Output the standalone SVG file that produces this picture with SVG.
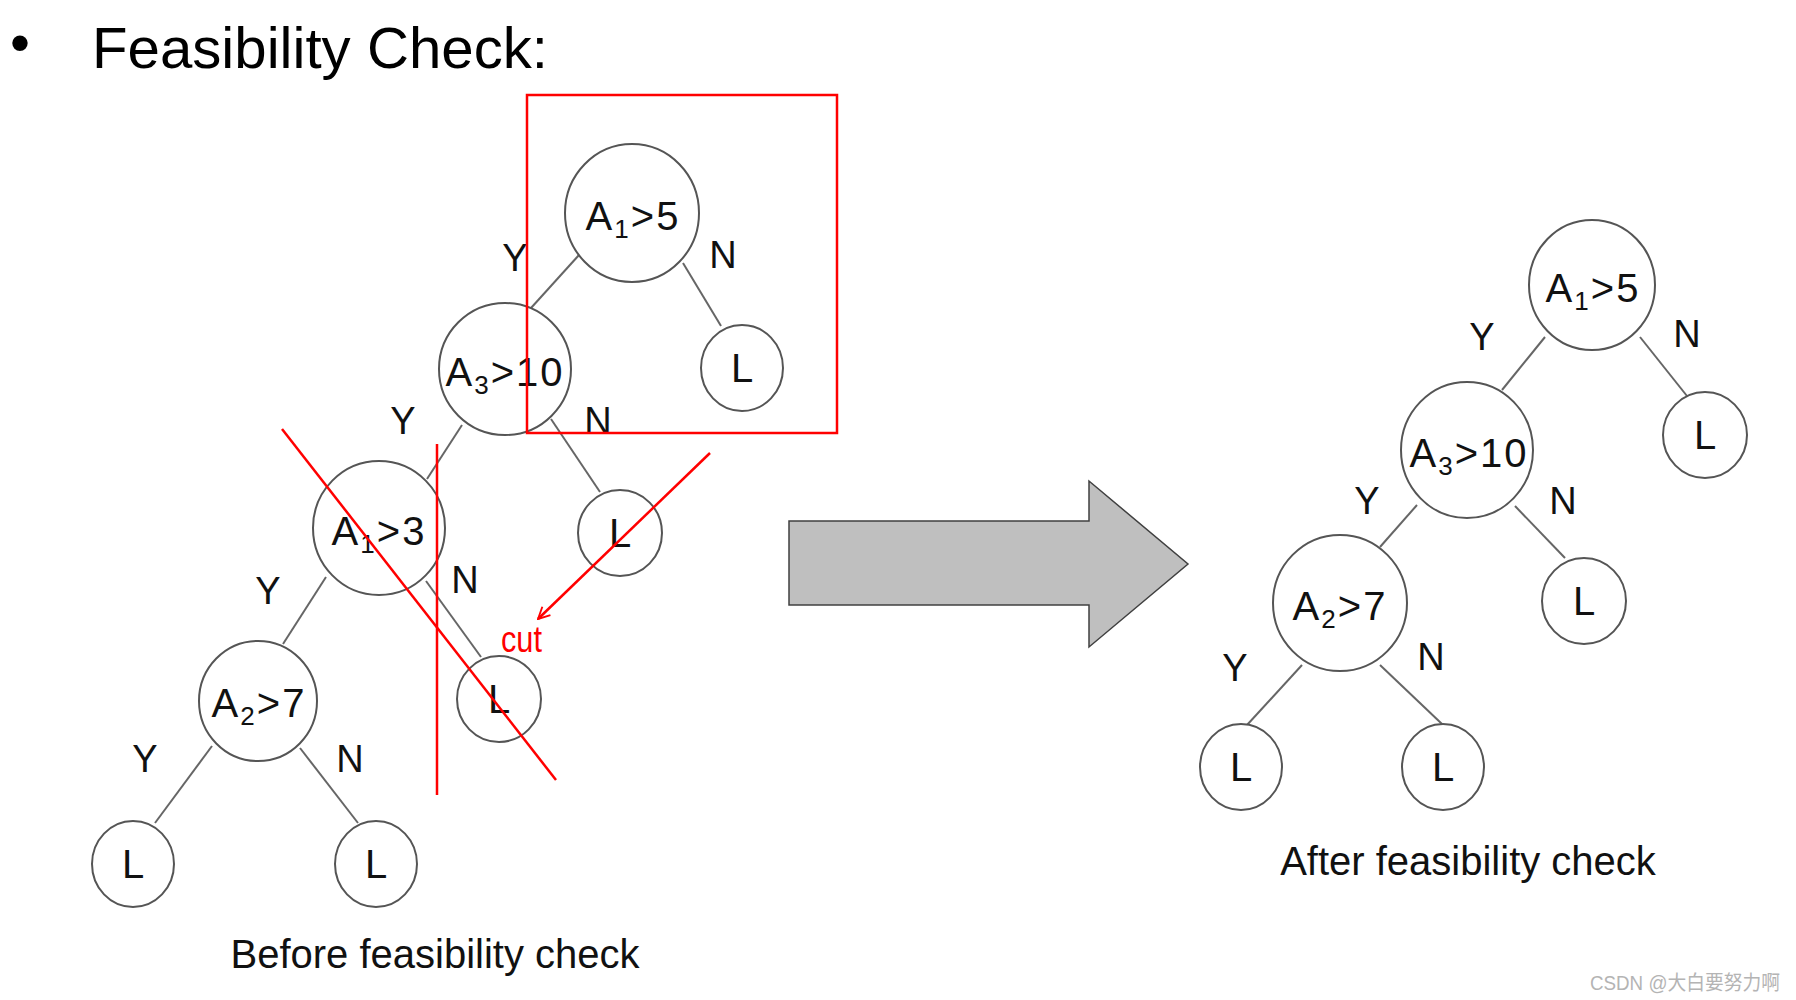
<svg xmlns="http://www.w3.org/2000/svg" width="1796" height="1000" viewBox="0 0 1796 1000">
<style>
.bg{fill:#fff}
.title{font-family:"Liberation Sans",Arial,sans-serif;font-size:57px;fill:#000}
.node{fill:#fff;stroke:#555;stroke-width:2}
.nt{font-family:"Liberation Sans",Arial,sans-serif;font-size:40px;fill:#111;text-anchor:middle;letter-spacing:2px}
.sub{font-size:26px}
.edge{stroke:#666;stroke-width:2;fill:none}
.lbl{font-family:"Liberation Sans",Arial,sans-serif;font-size:38px;fill:#111;text-anchor:middle}
.cap{font-family:"Liberation Sans",Arial,sans-serif;font-size:40px;fill:#111;text-anchor:middle}
.red{stroke:#ff0000;stroke-width:2.5;fill:none}
.cut{font-family:"Liberation Sans",Arial,sans-serif;font-size:36px;fill:#ff0000}
.wm{font-family:"Liberation Sans","Noto Sans CJK SC",sans-serif;font-size:20px;fill:#b4b4b4}
</style>
<defs>
<marker id="openArrow" viewBox="0 0 12 12" refX="11" refY="6" markerWidth="14" markerHeight="14" markerUnits="userSpaceOnUse" orient="auto">
<path d="M1,1 L11,6 L1,11" fill="none" stroke="#ff0000" stroke-width="1.6"/>
</marker>
</defs>
<rect class="bg" x="0" y="0" width="1796" height="1000"/>

<g id="title">
<text class="title" x="10" y="62">•</text>
<text class="title" x="92" y="68" textLength="456" lengthAdjust="spacingAndGlyphs">Feasibility Check:</text>
</g>

<g id="connectors">
<!-- left tree -->
<line class="edge" x1="579" y1="255" x2="531" y2="308"/>
<line class="edge" x1="683" y1="263" x2="721" y2="326"/>
<line class="edge" x1="462" y1="425" x2="427" y2="479"/>
<line class="edge" x1="551" y1="419" x2="600" y2="492"/>
<line class="edge" x1="326" y1="577" x2="283" y2="644"/>
<line class="edge" x1="426" y1="581" x2="481" y2="657"/>
<line class="edge" x1="212" y1="746" x2="155" y2="823"/>
<line class="edge" x1="300" y1="748" x2="358" y2="823"/>
<text class="lbl" x="515" y="271">Y</text>
<text class="lbl" x="723" y="268">N</text>
<text class="lbl" x="403" y="434">Y</text>
<text class="lbl" x="598" y="434">N</text>
<text class="lbl" x="268" y="604">Y</text>
<text class="lbl" x="465" y="593">N</text>
<text class="lbl" x="145" y="772">Y</text>
<text class="lbl" x="350" y="772">N</text>
<!-- right tree -->
<line class="edge" x1="1545" y1="337" x2="1502" y2="390"/>
<line class="edge" x1="1640" y1="337" x2="1687" y2="396"/>
<line class="edge" x1="1417" y1="505" x2="1380" y2="547"/>
<line class="edge" x1="1515" y1="506" x2="1565" y2="558"/>
<line class="edge" x1="1302" y1="665" x2="1247" y2="725"/>
<line class="edge" x1="1380" y1="665" x2="1442" y2="724"/>
<text class="lbl" x="1482" y="350">Y</text>
<text class="lbl" x="1687" y="347">N</text>
<text class="lbl" x="1367" y="514">Y</text>
<text class="lbl" x="1563" y="514">N</text>
<text class="lbl" x="1235" y="681">Y</text>
<text class="lbl" x="1431" y="670">N</text>
</g>

<!-- left tree nodes -->
<g id="L_A1gt5"><ellipse class="node" cx="632" cy="213" rx="67" ry="69"/><text class="nt" x="633" y="230">A<tspan class="sub" dy="8">1</tspan><tspan dy="-8">&gt;5</tspan></text></g>
<g id="L_A3gt10"><ellipse class="node" cx="505" cy="369" rx="66" ry="66"/><text class="nt" x="505" y="386">A<tspan class="sub" dy="8">3</tspan><tspan dy="-8">&gt;10</tspan></text></g>
<g id="L_leaf1"><ellipse class="node" cx="742" cy="368" rx="41" ry="43"/><text class="nt" x="743" y="382">L</text></g>
<g id="L_A1gt3"><ellipse class="node" cx="379" cy="528" rx="66" ry="67"/><text class="nt" x="379" y="545">A<tspan class="sub" dy="8">1</tspan><tspan dy="-8">&gt;3</tspan></text></g>
<g id="L_leaf2"><ellipse class="node" cx="620" cy="533" rx="42" ry="43"/><text class="nt" x="621" y="547">L</text></g>
<g id="L_A2gt7"><ellipse class="node" cx="258" cy="701" rx="59" ry="60"/><text class="nt" x="259" y="717">A<tspan class="sub" dy="8">2</tspan><tspan dy="-8">&gt;7</tspan></text></g>
<g id="L_leaf3"><ellipse class="node" cx="499" cy="699" rx="42" ry="43"/><text class="nt" x="500" y="713">L</text></g>
<g id="L_leaf4"><ellipse class="node" cx="133" cy="864" rx="41" ry="43"/><text class="nt" x="134" y="878">L</text></g>
<g id="L_leaf5"><ellipse class="node" cx="376" cy="864" rx="41" ry="43"/><text class="nt" x="377" y="878">L</text></g>
<g id="L_caption"><text class="cap" x="435" y="968">Before feasibility check</text></g>

<!-- right tree nodes -->
<g id="R_A1gt5"><ellipse class="node" cx="1592" cy="285" rx="63" ry="65"/><text class="nt" x="1593" y="302">A<tspan class="sub" dy="8">1</tspan><tspan dy="-8">&gt;5</tspan></text></g>
<g id="R_A3gt10"><ellipse class="node" cx="1467" cy="450" rx="66" ry="68"/><text class="nt" x="1469" y="467">A<tspan class="sub" dy="8">3</tspan><tspan dy="-8">&gt;10</tspan></text></g>
<g id="R_leaf1"><ellipse class="node" cx="1705" cy="435" rx="42" ry="43"/><text class="nt" x="1706" y="449">L</text></g>
<g id="R_A2gt7"><ellipse class="node" cx="1340" cy="603" rx="67" ry="68"/><text class="nt" x="1340" y="620">A<tspan class="sub" dy="8">2</tspan><tspan dy="-8">&gt;7</tspan></text></g>
<g id="R_leaf2"><ellipse class="node" cx="1584" cy="601" rx="42" ry="43"/><text class="nt" x="1585" y="615">L</text></g>
<g id="R_leaf3"><ellipse class="node" cx="1241" cy="767" rx="41" ry="43"/><text class="nt" x="1242" y="781">L</text></g>
<g id="R_leaf4"><ellipse class="node" cx="1443" cy="767" rx="41" ry="43"/><text class="nt" x="1444" y="781">L</text></g>
<g id="R_caption"><text class="cap" x="1468" y="875">After feasibility check</text></g>

<!-- big transition arrow -->
<g id="big_arrow">
<path d="M789,521 L1089,521 L1089,481 L1188,564 L1089,647 L1089,605 L789,605 Z" fill="#bfbfbf" stroke="#404040" stroke-width="1.5"/>
</g>

<!-- red annotations -->
<g id="annotations">
<rect class="red" x="527" y="95" width="310" height="338" stroke-width="3"/>
<line class="red" x1="282" y1="429" x2="556" y2="780"/>
<line class="red" x1="437" y1="444" x2="437" y2="795"/>
<line class="red" x1="710" y1="453" x2="538" y2="619" marker-end="url(#openArrow)"/>
<text class="cut" x="501" y="652" textLength="41" lengthAdjust="spacingAndGlyphs">cut</text>
</g>

<g id="watermark"><text class="wm" x="1590" y="990" textLength="190" lengthAdjust="spacingAndGlyphs">CSDN @大白要努力啊</text></g>
</svg>
